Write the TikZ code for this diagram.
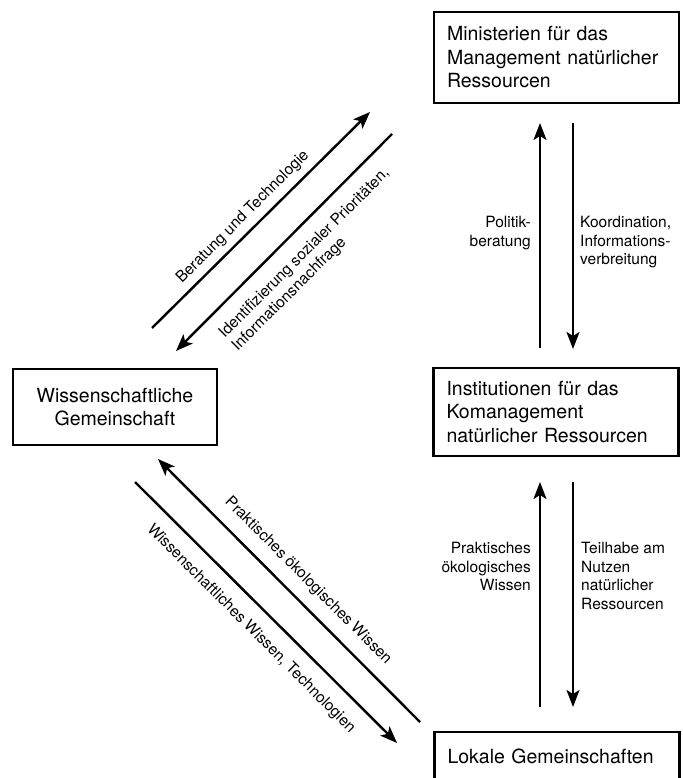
\documentclass[tikz,border=0pt]{standalone}
\usepackage{fontspec}
\setmainfont{TeX Gyre Heros}
\usetikzlibrary{arrows.meta}

\begin{document}
\begin{tikzpicture}[x = 1pt, y = -1pt,
  box/.style = {draw, line width=2.8pt, inner xsep=13pt, inner ysep=0pt,
    font=\fontsize{19.5}{23.5}\selectfont},
  rbox/.style = {box, minimum width=245pt, text width=219pt, align=left},
  lbl/.style = {font=\fontsize{15.5}{18.5}\selectfont, inner sep=0pt},
  arr/.style = {-{Stealth[length=17pt, width=13pt, inset=4pt]}, line width=2.4pt}]

  \useasboundingbox (0,0) rectangle (682,778);

  % boxes
  \node[rbox, minimum height=91pt] (minist) at (556.5,57.5)
  {Ministerien für das\\Management natürlicher\\Ressourcen};
  \node[rbox, minimum height=88pt] (komgmt) at (556,412)
  {Institutionen für das\\Komanagement\\natürlicher Ressourcen};
  \node[box, minimum width=204pt, minimum height=76pt, align=center] (wiss) at (115,407)
  {Wissenschaftliche\\Gemeinschaft};
  \node[rbox, minimum height=48pt] (lokal) at (557,756)
  {Lokale Gemeinschaften};

  % arrow ends
  \coordinate (polA) at (540,348);  \coordinate (polB) at (540,123);
  \coordinate (korA) at (573,123);  \coordinate (korB) at (573,349);
  \coordinate (prkA) at (540,707);  \coordinate (prkB) at (540,482);
  \coordinate (teiA) at (573,482);  \coordinate (teiB) at (573,707);
  \coordinate (berA) at (152,328);  \coordinate (berB) at (370,112);
  \coordinate (idfA) at (392,134);  \coordinate (idfB) at (176,351);
  \coordinate (oekA) at (420,722);  \coordinate (oekB) at (158,459);
  \coordinate (techA) at (135,482); \coordinate (techB) at (397,743);

  % arrows
  \draw[arr] (polA) -- (polB);
  \draw[arr] (korA) -- (korB);
  \draw[arr] (prkA) -- (prkB);
  \draw[arr] (teiA) -- (teiB);
  \draw[arr] (berA) -- (berB);
  \draw[arr] (idfA) -- (idfB);
  \draw[arr] (oekA) -- (oekB);
  \draw[arr] (techA) -- (techB);

  % labels
  \node[lbl, anchor=north east, align=right] (polit) at (531,216) {Politik-\\beratung};
  \node[lbl, anchor=north west, align=left] (koord) at (580,216)
  {Koordination,\\Informations-\\verbreitung};
  \node[lbl, anchor=north east, align=right] (praxis) at (531,542)
  {Praktisches\\ökologisches\\Wissen};
  \node[lbl, anchor=north west, align=left] (teilh) at (581,542)
  {Teilhabe am\\Nutzen\\natürlicher\\Ressourcen};
  \node[lbl, rotate=45] (berat) at (243,217) {Beratung und Technologie};
  \node[lbl, rotate=45, align=left] (ident) at (311,260)
  {Identifizierung sozialer Prioritäten,\\Informationsnachfrage};
  \node[lbl, rotate=-45] (oekwis) at (308,581) {Praktisches ökologisches Wissen};
  \node[lbl, rotate=-45] (wistech) at (251,629) {Wissenschaftliches Wissen, Technologien};
\end{tikzpicture}
\end{document}
